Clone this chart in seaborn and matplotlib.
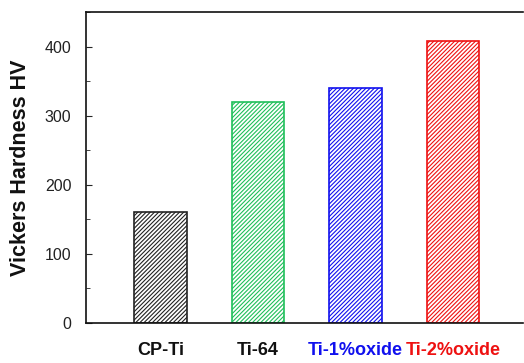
import matplotlib
matplotlib.use("Agg")
import matplotlib.pyplot as plt
from matplotlib.ticker import MultipleLocator
import seaborn as sns
import pandas as pd

materials = ["CP-Ti", "Ti-64", "Ti-1%oxide", "Ti-2%oxide"]
hardness = [160, 320, 340, 408]
colors = ["#222222", "#1fbf5a", "#1010ee", "#ee1111"]
label_colors = ["#111111", "#111111", "#1010ee", "#ee1111"]

sns.set_style("white")
plt.rcParams["font.family"] = ["Liberation Sans", "DejaVu Sans"]
plt.rcParams["hatch.linewidth"] = 0.8

df = pd.DataFrame({"material": materials, "hv": hardness})

fig = plt.figure(figsize=(5.24, 3.63), dpi=100)
ax = fig.add_axes([86 / 524, 1 - 323 / 363, (523 - 86) / 524, (323 - 12) / 363])

sns.barplot(data=df, x="material", y="hv", hue="material", palette=colors,
            width=0.54, legend=False, ax=ax)

for patch, c in zip(ax.patches, colors):
    patch.set_facecolor("white")
    patch.set_edgecolor(c)
    patch.set_hatch("////////")
    patch.set_linewidth(1.2)

ax.set_xlim(-0.764, 3.72)
ax.set_ylim(0, 450)
ax.yaxis.set_major_locator(MultipleLocator(100))
ax.yaxis.set_minor_locator(MultipleLocator(50))
ax.tick_params(axis="y", which="major", direction="in", length=4, width=0.8,
               labelsize=11.5, pad=10.5, left=True, labelcolor="#222222")
ax.tick_params(axis="y", which="minor", direction="in", length=3, width=0.6, left=True)
ax.tick_params(axis="x", length=0, pad=14, labelsize=13)

for lbl, c in zip(ax.get_xticklabels(), label_colors):
    lbl.set_color(c)
    lbl.set_fontweight("bold")

ax.set_xlabel("")
ax.set_ylabel("Vickers Hardness HV", fontsize=15.5, fontweight="bold", labelpad=10,
              color="#111111")

for side in ["left", "bottom", "top"]:
    ax.spines[side].set_visible(True)
    ax.spines[side].set_color("#111111")
    ax.spines[side].set_linewidth(1.2)
ax.spines["right"].set_visible(False)

fig.savefig("out.png", dpi=100)
